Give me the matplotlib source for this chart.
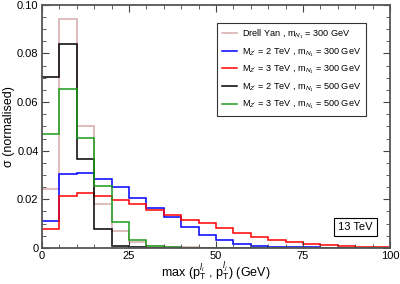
import numpy as np
import matplotlib
matplotlib.use('Agg')
import matplotlib.pyplot as plt
from matplotlib.ticker import MultipleLocator, FuncFormatter

plt.rcParams['font.family'] = ['Liberation Sans', 'DejaVu Sans']
plt.rcParams['mathtext.fontset'] = 'custom'
plt.rcParams['mathtext.rm'] = 'Liberation Sans'
plt.rcParams['mathtext.it'] = 'Liberation Sans:italic'

# bin edges in GeV (5 GeV bins)
edges = [0, 5, 10, 15, 20, 25, 30, 35, 40, 45, 50, 55, 60, 65, 70, 75, 80, 85, 90, 95, 100]

drell_yan = [0.0243, 0.0941, 0.0503, 0.0182, 0.0070, 0.0023, 0.0008, 0.0004, 0.0002, 0.0001,
             0.0001, 0, 0, 0, 0, 0, 0, 0, 0, 0]
z2_n300 = [0.0110, 0.0303, 0.0310, 0.0285, 0.0249, 0.0207, 0.0166, 0.0126, 0.0086, 0.0053,
           0.0032, 0.0015, 0.0008, 0.0005, 0.0003, 0.0002, 0.0001, 0.0001, 0, 0]
z3_n300 = [0.0078, 0.0214, 0.0228, 0.0215, 0.0197, 0.0181, 0.0156, 0.0137, 0.0115, 0.0101,
           0.0083, 0.0060, 0.0047, 0.0034, 0.0024, 0.0017, 0.0011, 0.0007, 0.0004, 0.0002]
z2_n500 = [0.0705, 0.0838, 0.0365, 0.0077, 0.0008, 0.0002, 0, 0, 0, 0,
           0, 0, 0, 0, 0, 0, 0, 0, 0, 0]
z3_n500 = [0.0468, 0.0652, 0.0452, 0.0255, 0.0107, 0.0032, 0.0007, 0.0003, 0.0001, 0,
           0, 0, 0, 0, 0, 0, 0, 0, 0, 0]

labels = [r'Drell Yan , m$_{N_1}$ = 300 GeV',
          r"M$_{Z'}$ = 2 TeV , m$_{N_1}$ = 300 GeV",
          r"M$_{Z'}$ = 3 TeV , m$_{N_1}$ = 300 GeV",
          r"M$_{Z'}$ = 2 TeV , m$_{N_1}$ = 500 GeV",
          r"M$_{Z'}$ = 3 TeV , m$_{N_1}$ = 500 GeV"]
colors = ['#d9abab', '#0000ff', '#ff0000', '#000000', '#1a9e1a']

fig = plt.figure(figsize=(4.0, 2.84), dpi=100)
ax = fig.add_axes([0.105, 0.127, 0.87, 0.856])

for vals, lab, col in zip([drell_yan, z2_n300, z3_n300, z2_n500, z3_n500], labels, colors):
    ax.stairs(vals, edges, color=col, linewidth=1.1, label=lab, baseline=None)

ax.set_xlim(0, 100)
ax.set_ylim(0, 0.10)
ax.xaxis.set_major_locator(MultipleLocator(25))
ax.xaxis.set_minor_locator(MultipleLocator(5))
ax.yaxis.set_major_locator(MultipleLocator(0.02))
ax.yaxis.set_minor_locator(MultipleLocator(0.005))
ax.yaxis.set_major_formatter(FuncFormatter(lambda v, p: '0' if abs(v) < 1e-9 else '%.2f' % v))
ax.tick_params(which='both', direction='in', top=True, right=True, labelsize=8, color='#444444', pad=2.5)
ax.tick_params(which='major', length=5)
ax.tick_params(which='minor', length=3)
for s in ax.spines.values():
    s.set_linewidth(1.3)
    s.set_color('#555555')

ax.set_xlabel(r'max (p$_\mathrm{T}^{l_i}$ , p$_\mathrm{T}^{l_j}$) (GeV)', fontsize=9, labelpad=-0.5)
ax.set_ylabel(r'σ (normalised)', fontsize=9, labelpad=1.5)

leg = ax.legend(loc='upper right', bbox_to_anchor=(0.931, 0.926), fontsize=6.6, frameon=True,
                fancybox=False, edgecolor='black', handlelength=1.6, handletextpad=0.6,
                labelspacing=0.55, borderpad=0.5, borderaxespad=0)
leg.get_frame().set_linewidth(0.8)

ax.text(0.951, 0.086, '13 TeV', transform=ax.transAxes, ha='right', va='center', fontsize=8,
        bbox=dict(boxstyle='square,pad=0.4', fc='white', ec='black', lw=0.8))

fig.savefig('out.png', dpi=100)
